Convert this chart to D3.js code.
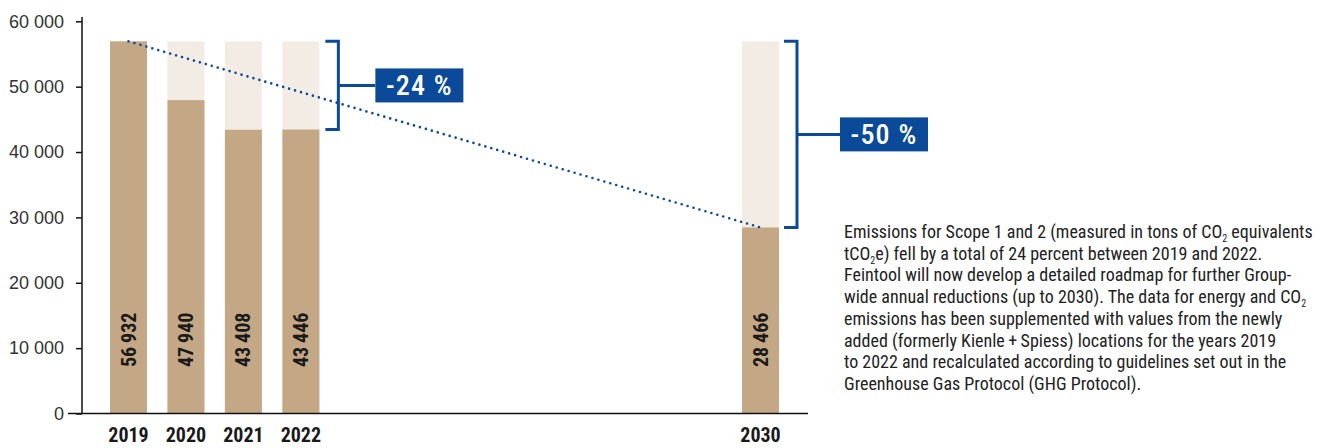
<!DOCTYPE html>
<html>
<head>
<meta charset="utf-8">
<script src="https://cdn.jsdelivr.net/npm/d3@7"></script>
<style>
  html, body { margin: 0; padding: 0; background: #fff; }
  svg { display: block; }
  .narrow { font-family: "Liberation Sans Narrow", "Arial Narrow", "Roboto Condensed", "DejaVu Sans Condensed", sans-serif; }
</style>
</head>
<body>
<svg id="chart" width="1318" height="448"></svg>
<script>
// Scope 1 + 2 emissions (tCO2e) per year, with the 2030 target
const years = [2019, 2020, 2021, 2022, 2030];
const emissions = [56932, 47940, 43408, 43446, 28466];
const yTicks = [0, 10000, 20000, 30000, 40000, 50000, 60000];
const reductionYears = [2022, 2030];
const reductionLabels = ["-24 %", "-50 %"];
const noteLines = [
  ["Emissions for Scope 1 and 2 (measured in tons of CO", "_2", " equivalents"],
  ["tCO", "_2", "e) fell by a total of 24 percent between 2019 and 2022."],
  ["Feintool will now develop a detailed roadmap for further Group-"],
  ["wide annual reductions (up to 2030). The data for energy and CO", "_2"],
  ["emissions has been supplemented with values from the newly"],
  ["added (formerly Kienle\u2009+\u2009Spiess) locations for the years 2019"],
  ["to 2022 and recalculated according to guidelines set out in the"],
  ["Greenhouse Gas Protocol (GHG Protocol)."]
];

const svg = d3.select("#chart");
const blue = "#0b4a98";
const barColor = "#c4a886";
const ghostColor = "#f3ece5";
const barW = 37;

const y = d3.scaleLinear().domain([0, 60000]).range([413.5, 21.3]);
const x = d3.scaleLinear().domain([2019, 2030]).range([128.5, 760.5]);
const base = emissions[0];
const data = years.map((yr, i) => ({ year: yr, value: emissions[i] }));

// reference level (2019) behind each bar
svg.append("g").selectAll("rect").data(data).join("rect")
  .attr("x", d => x(d.year) - barW / 2)
  .attr("width", barW)
  .attr("y", y(base))
  .attr("height", y(0) - y(base))
  .attr("fill", ghostColor);

// actual / target bars
svg.append("g").selectAll("rect").data(data).join("rect")
  .attr("x", d => x(d.year) - barW / 2)
  .attr("width", barW)
  .attr("y", d => y(d.value))
  .attr("height", d => y(0) - y(d.value))
  .attr("fill", barColor);

// value labels inside bars
const fmt = v => d3.format(",")(v).replace(/,/g, "\u2009");
svg.append("g").selectAll("text").data(data).join("text")
  .attr("class", "narrow")
  .attr("transform", d => `translate(${x(d.year) + 7},367) rotate(-90)`)
  .attr("font-size", 20)
  .attr("font-weight", "bold")
  .attr("fill", "#1a1a1a")
  .text(d => fmt(d.value));

// y axis
const yAxis = d3.axisLeft(y)
  .tickValues(yTicks)
  .tickSize(6)
  .tickPadding(12)
  .tickFormat(d => d3.format(",")(d).replace(/,/g, " "));
const gy = svg.append("g").attr("transform", "translate(82,0)").call(yAxis);
gy.select(".domain").remove();
gy.selectAll(".tick line").attr("stroke", "#111").attr("stroke-width", 1.5);
gy.selectAll(".tick text")
  .attr("font-family", "'Liberation Sans', Arial, sans-serif")
  .attr("font-size", 18)
  .attr("fill", "#333");
svg.append("line")
  .attr("x1", 82).attr("x2", 82)
  .attr("y1", 17).attr("y2", y(0))
  .attr("stroke", "#111").attr("stroke-width", 1.5);
svg.append("line")
  .attr("x1", 68).attr("x2", 808)
  .attr("y1", y(0)).attr("y2", y(0))
  .attr("stroke", "#111").attr("stroke-width", 1.5);

// year labels
svg.append("g").selectAll("text").data(data).join("text")
  .attr("class", "narrow")
  .attr("x", d => x(d.year))
  .attr("y", 442)
  .attr("text-anchor", "middle")
  .attr("font-size", 20)
  .attr("font-weight", "bold")
  .attr("fill", "#1a1a1a")
  .text(d => d.year);

// trend from 2019 to 2030 target
svg.append("line")
  .attr("x1", x(years[0])).attr("y1", y(emissions[0]))
  .attr("x2", x(years[years.length - 1])).attr("y2", y(emissions[emissions.length - 1]))
  .attr("stroke", blue)
  .attr("stroke-width", 2.6)
  .attr("stroke-linecap", "round")
  .attr("stroke-dasharray", "0 6.2");

// reduction brackets with labels
const bracketGap = [19, 18];
const stemLen = [37, 43];
reductionYears.forEach((yr, i) => {
  const v = emissions[years.indexOf(yr)];
  const bx = x(yr) + barW / 2 + bracketGap[i];
  const yTop = y(base), yBot = y(v), yMid = (yTop + yBot) / 2;
  svg.append("path")
    .attr("d", `M${bx - 13},${yTop}H${bx}V${yBot}H${bx - 13}M${bx},${yMid}H${bx + stemLen[i]}`)
    .attr("fill", "none")
    .attr("stroke", blue)
    .attr("stroke-width", 3);
  const bxL = bx + stemLen[i];
  svg.append("rect")
    .attr("x", bxL).attr("y", yMid - 17)
    .attr("width", 88).attr("height", 34)
    .attr("fill", blue);
  svg.append("text")
    .attr("class", "narrow")
    .attr("x", bxL + 44).attr("y", yMid + 10)
    .attr("text-anchor", "middle")
    .attr("font-size", 28)
    .attr("font-weight", 500)
    .attr("letter-spacing", 1.2)
    .attr("fill", "#fff")
    .text(reductionLabels[i]);
});

// explanatory note
const note = svg.append("text")
  .attr("class", "narrow")
  .attr("font-size", 18)
  .attr("fill", "#222");
noteLines.forEach((parts, i) => {
  const line = note.append("tspan").attr("x", 844).attr("y", 238 + i * 21.7);
  let shift = 0;
  parts.forEach(p => {
    if (p.startsWith("_")) {
      line.append("tspan").attr("font-size", 10).attr("dy", 4).text(p.slice(1));
      shift = -4;
    } else {
      const t = line.append("tspan").text(p);
      if (shift) { t.attr("dy", shift); shift = 0; }
    }
  });
});
</script>
</body>
</html>
